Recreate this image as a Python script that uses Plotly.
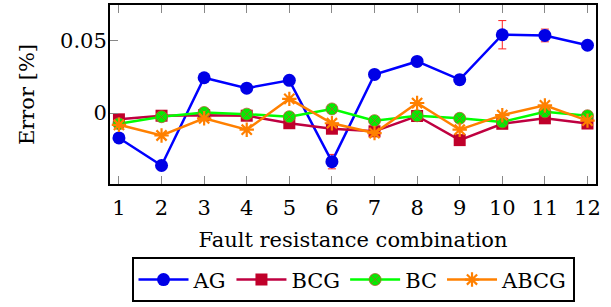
import plotly.graph_objects as go

x = list(range(1, 13))
ag = [-0.0172, -0.0363, 0.0245, 0.0173, 0.0227, -0.0336, 0.0268, 0.0358, 0.0232, 0.0543, 0.0538, 0.0470]
ag_err = [0.002, 0.002, 0.002, 0.002, 0.002, 0.005, 0.002, 0.002, 0.002, 0.0098, 0.0044, 0.002]
bcg = [-0.0043, -0.0018, -0.0014, -0.0018, -0.0070, -0.0108, -0.0126, -0.0020, -0.0187, -0.0074, -0.0036, -0.0072]
bc = [-0.0074, -0.0025, 0.0004, -0.0007, -0.0025, 0.0029, -0.0052, -0.0018, -0.0036, -0.0061, 0.0009, -0.0018]
abcg = [-0.0081, -0.0155, -0.0036, -0.0115, 0.0099, -0.0070, -0.0138, 0.0070, -0.0115, -0.0014, 0.0054, -0.0052]

FONT = "DejaVu Serif"
FS = 21

fig = go.Figure()
fig.add_trace(go.Scatter(
    x=x, y=ag, name="AG", mode="lines+markers",
    line=dict(color="#0000ff", width=2.5),
    marker=dict(symbol="circle", size=13, color="#0000e6", line=dict(width=0)),
    error_y=dict(type="data", array=ag_err, color="#ff2020", thickness=1, width=4),
))
fig.add_trace(go.Scatter(
    x=x, y=bcg, name="BCG", mode="lines+markers",
    line=dict(color="#bf0040", width=2.5),
    marker=dict(symbol="square", size=12, color="#c0002a", line=dict(width=0)),
))
fig.add_trace(go.Scatter(
    x=x, y=bc, name="BC", mode="lines+markers",
    line=dict(color="#00ff00", width=2.5),
    marker=dict(symbol="circle-x", size=12, color="#00ee00", line=dict(width=0.8, color="#b06030")),
))
fig.add_trace(go.Scatter(
    x=x, y=abcg, name="ABCG", mode="lines+markers",
    line=dict(color="#ff8000", width=2.5),
    marker=dict(symbol="asterisk-open", size=12, color="#ff8000", line=dict(width=2.2, color="#ff8000")),
))

fig.update_layout(
    width=611, height=307,
    margin=dict(l=110, r=15, t=5, b=118),
    paper_bgcolor="white", plot_bgcolor="white",
    font=dict(family=FONT, size=FS, color="black"),
    showlegend=True,
    legend=dict(
        orientation="h", x=0.5, xanchor="center", y=-0.41, yanchor="top",
        bordercolor="black", borderwidth=2, font=dict(size=FS, family=FONT),
        itemwidth=50, tracegroupgap=0,
    ),
)
fig.update_xaxes(
    range=[0.79, 12.2], tickmode="array", tickvals=x, ticktext=[str(v) for v in x],
    ticks="inside", ticklen=8, tickcolor="#888888", tickwidth=1,
    showline=True, linecolor="black", linewidth=2, mirror="allticks",
    showgrid=False, zeroline=False, ticklabelstandoff=4, automargin=False,
    title=dict(text="Fault resistance combination", standoff=13, font=dict(size=FS)),
)
fig.update_yaxes(
    range=[-0.0491, 0.0749], tickvals=[0, 0.05], ticktext=["0", "0.05"],
    ticks="inside", ticklen=8, tickcolor="#888888", tickwidth=1,
    showline=True, linecolor="black", linewidth=2, mirror=True,
    showgrid=False, zeroline=False, ticklabelstandoff=-3, automargin=False,
    title=dict(text="Error [%]", standoff=20, font=dict(size=FS)),
)

fig.write_html("out.html", config={"displayModeBar": False},
               post_script="document.body.style.margin='0';")
